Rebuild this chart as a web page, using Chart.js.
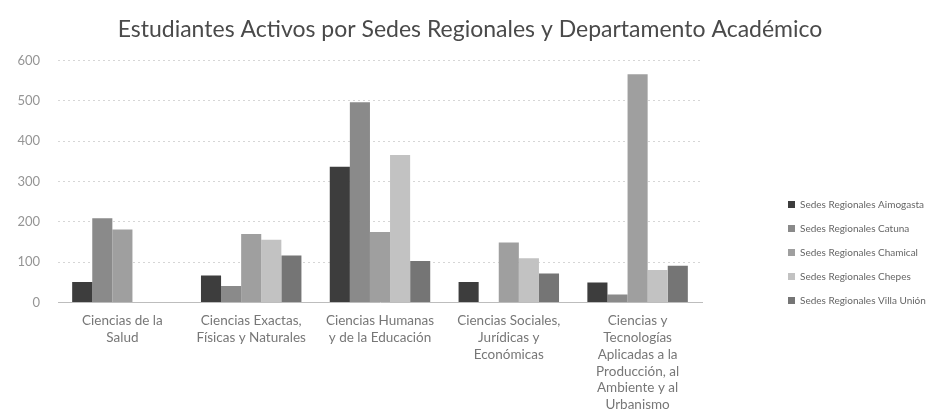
<!DOCTYPE html>
<html lang="es">
<head>
<meta charset="utf-8">
<title>Estudiantes Activos por Sedes Regionales</title>
<script src="https://cdn.jsdelivr.net/npm/chart.js@4.4.1/dist/chart.umd.min.js"></script>
<style>
  html, body { margin: 0; padding: 0; background: #fff; }
  #myChart { display: block; }
</style>
</head>
<body>
<canvas id="myChart" width="932" height="410"></canvas>
<script>
const departamentos = [
    ['Ciencias de la', 'Salud'],
    ['Ciencias Exactas,', 'Físicas y Naturales'],
    ['Ciencias Humanas', 'y de la Educación'],
    ['Ciencias Sociales,', 'Jurídicas y', 'Económicas'],
    ['Ciencias y', 'Tecnologías', 'Aplicadas a la', 'Producción, al', 'Ambiente y al', 'Urbanismo']
];

const sedes = [
    'Sedes Regionales Aimogasta',
    'Sedes Regionales Catuna',
    'Sedes Regionales Chamical',
    'Sedes Regionales Chepes',
    'Sedes Regionales Villa Unión'
];

const aimogasta = [51, 67, 337, 51, 50];
const catuna = [209, 41, 497, null, 20];
const chamical = [181, 170, 175, 149, 566];
const chepes = [null, 156, 366, 110, 81];
const villaUnion = [null, 117, 103, 72, 91];

const yTicks = [0, 100, 200, 300, 400, 500, 600];

const colores = ['#3d3d3d', '#8a8a8a', '#9f9f9f', '#c2c2c2', '#757575'];

const fuente = "Lato, 'Open Sans', sans-serif";

// pushes the legend down next to the lower half of the plot
const legendOffset = {
    id: 'legendOffset',
    afterLayout(chart) {
        const dy = 41;
        chart.legend.top += dy;
        chart.legend.bottom += dy;
    }
};

document.addEventListener('DOMContentLoaded', () => {
    const chartElement = document.getElementById('myChart');
    const series = [aimogasta, catuna, chamical, chepes, villaUnion];

    new Chart(chartElement, {
        type: 'bar',
        data: {
            labels: departamentos,
            datasets: series.map((valores, i) => ({
                label: sedes[i],
                data: valores,
                backgroundColor: colores[i],
                borderWidth: 0,
                barPercentage: 1.0,
                categoryPercentage: 0.78
            }))
        },
        options: {
            responsive: false,
            animation: false,
            layout: {
                padding: { left: 14, right: 6, top: 0, bottom: -13 }
            },
            plugins: {
                title: {
                    display: true,
                    text: 'Estudiantes Activos por Sedes Regionales y Departamento Académico',
                    color: '#4a4a4a',
                    font: { family: fuente, size: 23, weight: 'normal' },
                    padding: { top: 16, bottom: 17 }
                },
                legend: {
                    position: 'right',
                    align: 'center',
                    labels: {
                        color: '#666',
                        font: { family: fuente, size: 10 },
                        boxWidth: 7,
                        boxHeight: 7,
                        padding: 14
                    }
                },
                tooltip: { enabled: false }
            },
            scales: {
                x: {
                    grid: { display: false, drawTicks: false },
                    border: { display: true, color: '#bdbdbd' },
                    ticks: {
                        color: '#777',
                        font: { family: fuente, size: 13.5, lineHeight: 1.24 },
                        padding: 10,
                        maxRotation: 0,
                        autoSkip: false
                    }
                },
                y: {
                    min: 0,
                    max: 600,
                    afterBuildTicks: axis => {
                        axis.ticks = yTicks.map(v => ({ value: v }));
                    },
                    afterFit: axis => { axis.width = 44; },
                    grid: {
                        color: ctx => ctx.tick && ctx.tick.value === 0 ? '#bdbdbd' : '#d6d6d6',
                        drawTicks: false
                    },
                    border: { display: false, dash: [2, 3] },
                    ticks: {
                        color: '#959595',
                        font: { family: fuente, size: 13 },
                        padding: 18
                    }
                },
                // empty gap between plot and legend
                gap: {
                    type: 'linear',
                    position: 'right',
                    display: true,
                    grid: { display: false },
                    border: { display: false },
                    ticks: { display: false },
                    afterFit: axis => { axis.width = 72; }
                }
            }
        },
        plugins: [legendOffset]
    });
});
</script>
</body>
</html>
